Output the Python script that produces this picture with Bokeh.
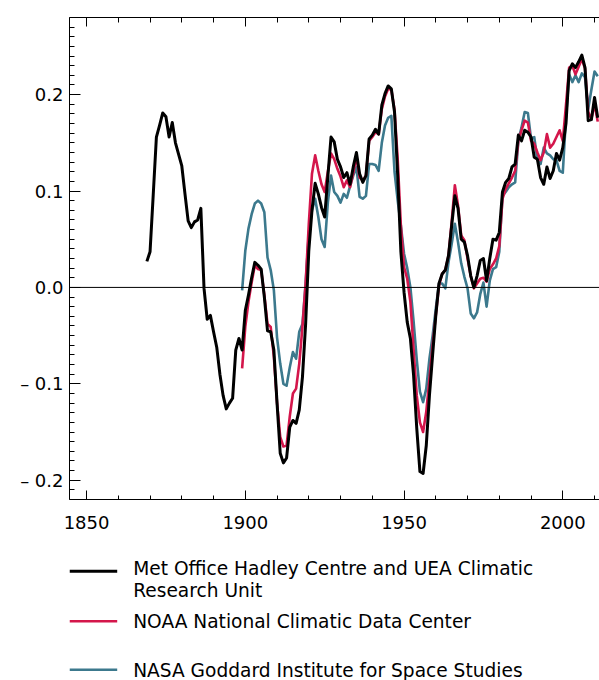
from bokeh.plotting import figure
from bokeh.models import Range1d, FixedTicker, LinearAxis, CustomJSTickFormatter, Span, ColumnDataSource
from bokeh.layouts import column
from bokeh.core.properties import value
from bokeh.embed import file_html
from bokeh.resources import INLINE

# ---------------- data ----------------
hadley_years = list(range(1869, 2012))
hadley = [
    0.027, 0.037, 0.096, 0.156, 0.168, 0.181, 0.177, 0.156, 0.171, 0.150,   # 1869-1878
    0.138, 0.126, 0.097, 0.069, 0.062, 0.068, 0.070, 0.082, -0.001, -0.033,  # 1879-1888
    -0.029, -0.046, -0.062, -0.090, -0.112, -0.126, -0.120, -0.115, -0.065, -0.053,  # 1889-1898
    -0.065, -0.024, -0.008, 0.010, 0.026, 0.023, 0.019, -0.010, -0.045, -0.046,  # 1899-1908
    -0.065, -0.120, -0.172, -0.182, -0.177, -0.145, -0.138, -0.141, -0.127, -0.093,  # 1909-1918
    -0.038, 0.038, 0.080, 0.108, 0.097, 0.083, 0.073, 0.115, 0.156, 0.151,  # 1919-1928
    0.133, 0.125, 0.114, 0.119, 0.107, 0.125, 0.140, 0.118, 0.109, 0.116,  # 1929-1938
    0.154, 0.158, 0.164, 0.159, 0.189, 0.201, 0.209, 0.206, 0.182, 0.116,  # 1939-1948
    0.037, -0.005, -0.036, -0.053, -0.091, -0.146, -0.191, -0.193, -0.164, -0.112,  # 1949-1958
    -0.070, -0.029, 0.004, 0.014, 0.018, 0.033, 0.064, 0.095, 0.082, 0.050,  # 1959-1968
    0.047, 0.033, 0.012, 0.000, 0.012, 0.028, 0.030, 0.007, 0.030, 0.050,  # 1969-1978
    0.049, 0.057, 0.099, 0.109, 0.113, 0.125, 0.128, 0.158, 0.152, 0.163,  # 1979-1988
    0.161, 0.156, 0.135, 0.133, 0.114, 0.107, 0.125, 0.113, 0.121, 0.139,  # 1989-1998
    0.132, 0.145, 0.170, 0.225, 0.232, 0.228, 0.234, 0.241, 0.228, 0.173,  # 1999-2008
    0.174, 0.197, 0.176,                                                   # 2009-2011
]

noaa_years = list(range(1899, 2012))
noaa = [
    -0.084, -0.041, -0.015, 0.005, 0.023, 0.019, 0.018, -0.008, -0.038, -0.041,  # 1899-1908
    -0.072, -0.120, -0.155, -0.165, -0.164, -0.134, -0.110, -0.105, -0.079, -0.041,  # 1909-1918
    0.004, 0.066, 0.118, 0.137, 0.121, 0.107, 0.099, 0.120, 0.139, 0.133,  # 1919-1928
    0.123, 0.115, 0.104, 0.111, 0.104, 0.119, 0.136, 0.114, 0.111, 0.116,  # 1929-1938
    0.152, 0.156, 0.161, 0.159, 0.185, 0.198, 0.206, 0.205, 0.184, 0.133,  # 1939-1948
    0.064, 0.021, 0.009, -0.015, -0.064, -0.112, -0.140, -0.150, -0.129, -0.095,  # 1949-1958
    -0.060, -0.029, 0.002, 0.014, 0.018, 0.033, 0.068, 0.106, 0.085, 0.054,  # 1959-1968
    0.049, 0.030, 0.012, -0.001, 0.004, 0.009, 0.010, 0.006, 0.019, 0.024,  # 1969-1978
    0.030, 0.043, 0.092, 0.102, 0.108, 0.114, 0.121, 0.152, 0.163, 0.173,  # 1979-1988
    0.171, 0.152, 0.149, 0.140, 0.132, 0.140, 0.159, 0.145, 0.149, 0.156,  # 1989-1998
    0.163, 0.152, 0.189, 0.228, 0.230, 0.221, 0.229, 0.237, 0.227, 0.182,  # 1999-2008
    0.175, 0.190, 0.172,                                                   # 2009-2011
]

nasa_years = list(range(1899, 2012))
nasa = [
    -0.003, 0.038, 0.061, 0.076, 0.087, 0.090, 0.087, 0.078, 0.031, 0.018,  # 1899-1908
    -0.003, -0.052, -0.079, -0.100, -0.102, -0.083, -0.067, -0.074, -0.046, -0.038,  # 1909-1918
    0.004, 0.056, 0.080, 0.092, 0.073, 0.050, 0.042, 0.088, 0.116, 0.099,  # 1919-1928
    0.095, 0.088, 0.097, 0.093, 0.105, 0.116, 0.125, 0.094, 0.092, 0.095,  # 1929-1938
    0.128, 0.128, 0.127, 0.121, 0.150, 0.168, 0.176, 0.178, 0.120, 0.090,  # 1939-1948
    0.064, 0.035, 0.020, 0.000, -0.035, -0.075, -0.108, -0.119, -0.105, -0.074,  # 1949-1958
    -0.050, -0.022, 0.004, 0.004, -0.001, 0.026, 0.045, 0.066, 0.047, 0.025,  # 1959-1968
    0.011, -0.001, -0.027, -0.032, -0.026, -0.007, 0.005, -0.020, 0.007, 0.019,  # 1969-1978
    0.021, 0.037, 0.095, 0.099, 0.104, 0.107, 0.109, 0.152, 0.166, 0.182,  # 1979-1988
    0.181, 0.154, 0.156, 0.132, 0.128, 0.145, 0.139, 0.137, 0.133, 0.132,  # 1989-1998
    0.121, 0.119, 0.176, 0.221, 0.213, 0.220, 0.213, 0.222, 0.218, 0.185,  # 1999-2008
    0.205, 0.224, 0.219,                                                   # 2009-2011
]

series_names = [
    "Met Office Hadley Centre and UEA Climatic\nResearch Unit",
    "NOAA National Climatic Data Center",
    "NASA Goddard Institute for Space Studies",
]
series_colors = ["#000000", "#d4164b", "#3c798d"]
series_widths = [3.0, 2.6, 2.6]

x_major_ticks = [1850, 1900, 1950, 2000]
x_minor_ticks = list(range(1850, 2020, 10))
y_major_ticks = [-0.2, -0.1, 0.0, 0.1, 0.2]
y_minor_ticks = [round(-0.22 + 0.01 * i, 2) for i in range(51)]

FONT = "DejaVu Sans"
FS = "18px"

# ---------------- layout (page pixels) ----------------
LEFT, FRAME_W = 69, 530
TOP, FRAME_H, BOTTOM = 17, 482, 37
MAIN_H = TOP + FRAME_H + BOTTOM        # 536
LEG_H = 680 - MAIN_H                   # 144

# ---------------- main chart ----------------
p = figure(
    frame_width=FRAME_W, frame_height=FRAME_H,
    x_range=Range1d(1844.63, 2011.56), y_range=Range1d(-0.22, 0.28),
    output_backend="svg", toolbar_location=None,
    min_border_left=LEFT, min_border_right=0, min_border_top=TOP, min_border_bottom=BOTTOM,
)
p.outline_line_color = None
p.grid.visible = False
p.background_fill_color = "white"
p.border_fill_color = "white"

def style_axis(ax, tin, tmin):
    ax.axis_line_color = "black"
    ax.axis_line_width = 1
    ax.major_tick_line_color = "black"
    ax.minor_tick_line_color = "black"
    ax.major_tick_in = tin
    ax.major_tick_out = 0
    ax.minor_tick_in = tmin
    ax.minor_tick_out = 0
    ax.major_label_text_font = FONT
    ax.major_label_text_font_size = FS
    ax.major_label_text_color = "black"

xa = p.xaxis[0]
xa.ticker = FixedTicker(ticks=x_major_ticks, minor_ticks=x_minor_ticks)
style_axis(xa, 9, 4)
xa.major_label_standoff = 16

ya = p.yaxis[0]
ya.ticker = FixedTicker(ticks=y_major_ticks, minor_ticks=y_minor_ticks)
style_axis(ya, 11, 5)
ya.major_label_standoff = 6
ya.formatter = CustomJSTickFormatter(code="""
    if (tick < -1e-9) { return "\\u2013 " + Math.abs(tick).toFixed(1); }
    return Math.abs(tick).toFixed(1);
""")

top = LinearAxis(ticker=FixedTicker(ticks=x_major_ticks, minor_ticks=x_minor_ticks))
style_axis(top, 9, 5)
top.major_label_text_font_size = "0px"
top.major_label_standoff = 0
top.formatter = CustomJSTickFormatter(code="return '';")
p.add_layout(top, "above")

p.add_layout(Span(location=0, dimension="width", line_color="black", line_width=1))

all_series = [(hadley_years, hadley), (noaa_years, noaa), (nasa_years, nasa)]
for idx in [2, 1, 0]:
    xs, ys = all_series[idx]
    p.line(xs, ys, line_color=series_colors[idx], line_width=series_widths[idx],
           line_join="round")

# ---------------- legend (data units = page pixels) ----------------
leg = figure(
    frame_width=FRAME_W, frame_height=LEG_H,
    x_range=Range1d(LEFT, LEFT + FRAME_W), y_range=Range1d(680, MAIN_H),
    output_backend="svg", toolbar_location=None,
    x_axis_type=None, y_axis_type=None,
    min_border_left=LEFT, min_border_right=0, min_border_top=0, min_border_bottom=0,
)
leg.outline_line_color = None
leg.grid.visible = False

row_y = [570.7, 620.7, 669.3]
leg.segment(x0=[69.0] * 3, y0=row_y, x1=[116.7] * 3, y1=row_y,
            line_color=series_colors, line_width=series_widths)

tx, ty, tt = [], [], []
for i, name in enumerate(series_names):
    parts = name.split("\n")
    y0 = row_y[i] - 3.2 if len(parts) > 1 else row_y[i] + 0.5
    for k, part in enumerate(parts):
        tx.append(132.7)
        ty.append(y0 + 22 * k)
        tt.append(part)
leg.text(x="x", y="y", text="t", source=ColumnDataSource(dict(x=tx, y=ty, t=tt)),
         text_font=value(FONT), text_font_size="18.6px", text_baseline="middle",
         text_align="left", text_color="black")

layout = column(p, leg, spacing=0)
html = file_html(layout, INLINE)
html = html.replace("</head>", "<style>html, body { overflow: hidden; }</style></head>", 1)
open("out.html", "w").write(html)
